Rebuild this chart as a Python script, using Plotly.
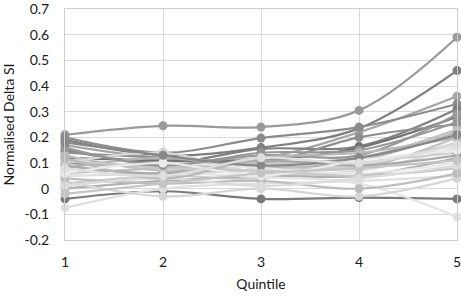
import plotly.graph_objects as go

quintiles = [1, 2, 3, 4, 5]

s01 = [0.21, 0.245, 0.24, 0.305, 0.59]
s02 = [0.19, 0.13, 0.16, 0.235, 0.46]
s03 = [0.17, 0.12, 0.12, 0.22, 0.36]
s04 = [0.20, 0.14, 0.197, 0.24, 0.33]
s05 = [0.15, 0.10, 0.155, 0.165, 0.31]
s06 = [0.12, 0.11, 0.11, 0.16, 0.28]
s07 = [0.14, 0.12, 0.10, 0.20, 0.25]
s08 = [0.10, 0.09, 0.13, 0.13, 0.29]
s09 = [0.08, 0.12, 0.08, 0.11, 0.22]
s10 = [0.06, 0.08, 0.10, 0.12, 0.23]
s11 = [0.13, 0.07, 0.09, 0.08, 0.20]
s12 = [0.05, 0.06, 0.07, 0.09, 0.18]
s13 = [0.10, 0.14, 0.06, 0.07, 0.16]
s14 = [0.02, 0.05, 0.04, 0.10, 0.14]
s15 = [0.00, 0.03, 0.05, 0.05, 0.12]
s16 = [-0.04, -0.01, -0.04, -0.035, -0.04]
s17 = [-0.075, 0.0, 0.02, 0.03, 0.05]
s18 = [0.05, 0.06, 0.045, 0.02, -0.11]
s19 = [0.03, -0.03, 0.00, -0.03, 0.04]
s20 = [0.07, 0.10, 0.08, 0.06, 0.10]
s21 = [0.09, 0.06, 0.11, 0.09, 0.13]
s22 = [0.11, 0.08, 0.07, 0.05, 0.08]
s23 = [0.04, 0.02, 0.03, 0.00, 0.06]
s24 = [0.16, 0.09, 0.14, 0.15, 0.26]
s25 = [0.01, 0.04, 0.01, 0.04, 0.09]
s26 = [0.12, 0.04, 0.12, 0.14, 0.20]
s27 = [0.06, 0.10, 0.05, 0.11, 0.15]
s28 = [0.18, 0.13, 0.09, 0.12, 0.21]
s29 = [-0.02, 0.02, 0.06, 0.08, 0.11]
s30 = [0.08, 0.05, 0.12, 0.10, 0.17]

all_series = [s01, s02, s03, s04, s05, s06, s07, s08, s09, s10,
              s11, s12, s13, s14, s15, s16, s17, s18, s19, s20,
              s21, s22, s23, s24, s25, s26, s27, s28, s29, s30]

colors = ["#9a9a9a", "#7f7f7f", "#a6a6a6", "#8c8c8c", "#808080", "#737373",
          "#8f8f8f", "#999999", "#b3b3b3", "#c0c0c0", "#bfbfbf", "#d0d0d0",
          "#d9d9d9", "#cccccc", "#b0b0b0", "#7a7a7a", "#e0e0e0", "#e3e3e3",
          "#d6d6d6", "#e8e8e8", "#a9a9a9", "#c8c8c8", "#bdbdbd", "#969696",
          "#dcdcdc", "#b8b8b8", "#ebebeb", "#888888", "#c4c4c4", "#dedede"]

y_ticks = [0.7, 0.6, 0.5, 0.4, 0.3, 0.2, 0.1, 0, -0.1, -0.2]
y_tick_labels = ["0.7", "0.6", "0.5", "0.4", "0.3", "0.2", "0.1", "0", "-0.1", "-0.2"]
x_tick_labels = ["1", "2", "3", "4", "5"]

fig = go.Figure()
for vals, c in zip(all_series, colors):
    fig.add_trace(go.Scatter(
        x=quintiles, y=vals, mode="lines+markers",
        line=dict(color=c, width=2.2, shape="spline", smoothing=1.0),
        marker=dict(color=c, size=9),
        showlegend=False, cliponaxis=False,
    ))

font = "Lato, Open Sans, sans-serif"
fig.update_layout(
    width=461, height=297,
    margin=dict(l=65, r=4, t=9, b=57),
    paper_bgcolor="white", plot_bgcolor="white",
    font=dict(family=font, size=14, color="#1a1a1a"),
    xaxis=dict(
        range=[1, 5], tickvals=quintiles, ticktext=x_tick_labels,
        showgrid=True, gridcolor="#d9d9d9", gridwidth=1,
        showline=True, linecolor="#cfcfcf", linewidth=1, mirror=True,
        zeroline=False, ticks="", ticklabelstandoff=9, automargin=False,
        ticklabeloverflow="allow",
        title=dict(text="Quintile", standoff=10, font=dict(size=14)),
    ),
    yaxis=dict(
        range=[-0.2, 0.7], tickvals=y_ticks, ticktext=y_tick_labels,
        showgrid=True, gridcolor="#d9d9d9", gridwidth=1,
        showline=True, linecolor="#cfcfcf", linewidth=1, mirror=True,
        zeroline=False, ticks="", ticklabelstandoff=12, automargin=False,
        ticklabeloverflow="allow",
        title=dict(text="Normalised Delta SI", standoff=7, font=dict(size=14)),
    ),
)

fig.write_html(
    "out.html",
    config={"displayModeBar": False},
    post_script="document.body.style.margin='0';document.body.style.overflow='hidden';",
)
